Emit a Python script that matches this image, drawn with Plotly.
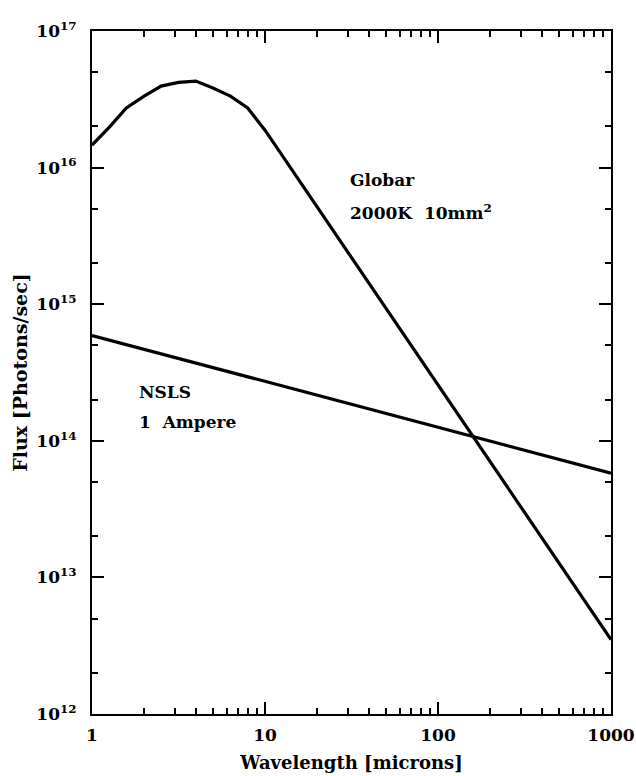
import plotly.graph_objects as go

# Data
wavelength_globar = [1, 1.26, 1.58, 2.0, 2.51, 3.16, 3.98, 5.0, 6.31, 7.94, 10, 1000]
flux_globar = [1.46e16, 1.98e16, 2.73e16, 3.34e16, 3.95e16, 4.2e16, 4.3e16,
               3.83e16, 3.34e16, 2.73e16, 1.88e16, 3.5e12]
wavelength_nsls = [1, 1000]
flux_nsls = [5.9e14, 5.8e13]

x_tick_vals = [1, 10, 100, 1000]
x_tick_text = ["1", "10", "100", "1000"]
y_tick_vals = [1e12, 1e13, 1e14, 1e15, 1e16, 1e17]
y_tick_text = ["10<sup>12</sup>", "10<sup>13</sup>", "10<sup>14</sup>",
               "10<sup>15</sup>", "10<sup>16</sup>", "10<sup>17</sup>"]

FONT = "DejaVu Serif"

fig = go.Figure()
fig.add_trace(go.Scatter(x=wavelength_globar, y=flux_globar, mode="lines",
                         line=dict(color="black", width=3.2), showlegend=False))
fig.add_trace(go.Scatter(x=wavelength_nsls, y=flux_nsls, mode="lines",
                         line=dict(color="black", width=3.2), showlegend=False))

axis_common = dict(
    type="log", showgrid=False, zeroline=False, automargin=False,
    showline=True, linecolor="black", linewidth=2, mirror="allticks",
    ticks="inside", ticklen=12, tickwidth=2, tickcolor="black",
)

fig.update_xaxes(
    **axis_common, range=[0, 3], tickvals=x_tick_vals, ticktext=x_tick_text,
    tickfont=dict(family=FONT, size=17, color="black", weight="bold"),
    ticklabelstandoff=5,
    minor=dict(dtick="D1", ticks="inside", ticklen=6, tickwidth=1.5, tickcolor="black"),
    title=dict(text="Wavelength [microns]", standoff=12,
               font=dict(family=FONT, size=18, color="black", weight="bold")),
)
fig.update_yaxes(
    **axis_common, range=[12, 17], tickvals=y_tick_vals, ticktext=y_tick_text,
    tickfont=dict(family=FONT, size=17, color="black", weight="bold"),
    ticklabelstandoff=10,
    minor=dict(dtick="D2", ticks="inside", ticklen=6, tickwidth=1.5, tickcolor="black"),
    title=dict(text="Flux [Photons/sec]", standoff=4,
               font=dict(family=FONT, size=19, color="black", weight="bold")),
)

ann_font = dict(family=FONT, size=17, color="black", weight="bold")
annotations = [
    dict(x=1.48, y=15.909, text="Globar"),
    dict(x=1.48, y=15.675, text="2000K  10mm<sup>2</sup>"),
    dict(x=0.26, y=14.357, text="NSLS"),
    dict(x=0.26, y=14.138, text="1  Ampere"),
]
for a in annotations:
    fig.add_annotation(x=a["x"], y=a["y"], xref="x", yref="y", text=a["text"],
                       showarrow=False, xanchor="left", yanchor="middle", font=ann_font)

fig.update_layout(
    width=636, height=776,
    margin=dict(l=92, r=25, t=31, b=62),
    paper_bgcolor="white", plot_bgcolor="white",
    font=dict(family=FONT, size=16, color="black"),
)

fig.write_html(
    "out.html",
    config={"displayModeBar": False},
    post_script="document.body.style.margin='0';document.body.style.overflow='hidden';",
)
